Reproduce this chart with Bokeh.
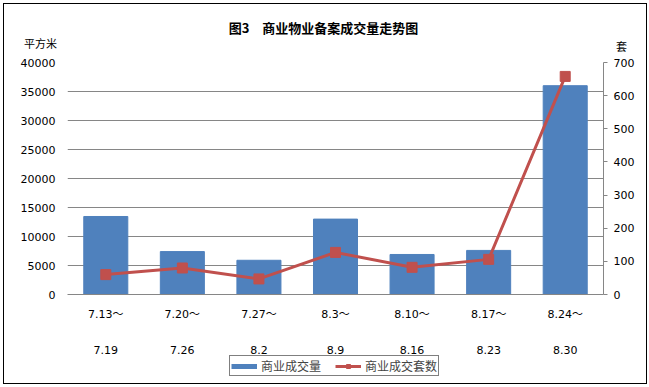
from bokeh.plotting import figure
from bokeh.layouts import column
from bokeh.models import Range1d, LinearAxis, FixedTicker, Legend, LegendItem, ColumnDataSource
from bokeh.core.properties import value
from bokeh.embed import file_html
from bokeh.resources import INLINE

title_text = "图3\u3000商业物业备案成交量走势图"
left_unit = "平方米"
right_unit = "套"
week_start = ["7.13～", "7.20～", "7.27～", "8.3～", "8.10～", "8.17～", "8.24～"]
week_end = ["7.19", "7.26", "8.2", "8.9", "8.16", "8.23", "8.30"]
area = [13450, 7400, 5900, 13000, 6900, 7600, 36000]
units = [60, 80, 47, 127, 82, 106, 658]
left_ticks = [0, 5000, 10000, 15000, 20000, 25000, 30000, 35000, 40000]
right_ticks = [0, 100, 200, 300, 400, 500, 600, 700]
series_names = ["商业成交量", "商业成交套数"]

BLUE = "#4F81BD"
RED = "#C0504D"
FONT = "DejaVu Sans, Noto Sans CJK SC"
CJK = "Noto Sans CJK SC"
GRID = "#868686"
W = 649
ML, MR = 67, 46  # frame margins shared by main chart and bottom strip

xs = [i + 0.5 for i in range(len(area))]
src = ColumnDataSource(dict(x=xs, area=area, units=units, start=week_start, end=week_end))

# ---- header: title and unit labels ----
top = figure(width=W, height=54, output_backend="svg", toolbar_location=None,
             x_range=Range1d(0, W), y_range=Range1d(54, 0),
             x_axis_type=None, y_axis_type=None, min_border=0, frame_align=False,
             background_fill_alpha=0, border_fill_alpha=0)
top.outline_line_color = None
top.grid.visible = False
top.text(x=[323], y=[27], text=[title_text], text_align="center", text_baseline="middle",
         text_font=value(CJK), text_font_size="13px", text_font_style="bold", text_color="black")
top.text(x=[40, 621], y=[42, 45], text=[left_unit, right_unit], text_align="center",
         text_baseline="middle", text_font=value(CJK), text_font_size="11px", text_color="black")

# ---- main chart ----
p = figure(width=W, height=276, output_backend="svg", toolbar_location=None,
           x_range=Range1d(0, 7), y_range=Range1d(0, 40000), frame_align=False,
           min_border_left=ML, min_border_right=MR, min_border_top=8, min_border_bottom=36,
           background_fill_color="white", border_fill_alpha=0)
p.outline_line_color = None
p.xgrid.grid_line_color = None
p.ygrid.grid_line_color = GRID
p.ygrid.ticker = FixedTicker(ticks=left_ticks)
p.extra_y_ranges = {"right": Range1d(0, 700)}

p.vbar(x="x", top="area", width=0.575, color=BLUE, source=src)
p.line(x="x", y="units", y_range_name="right", line_color=RED, line_width=3, source=src)
p.scatter(x="x", y="units", y_range_name="right", marker="square", size=10,
          fill_color=RED, line_color=RED, source=src)

ya = p.yaxis[0]
ya.ticker = FixedTicker(ticks=left_ticks)
ya.axis_line_color = None
ya.major_tick_line_color = None
ya.major_tick_out = 0
ya.major_tick_in = 0
ya.minor_tick_line_color = None
ya.major_label_standoff = 12
ya.major_label_text_font = FONT
ya.major_label_text_font_size = "11px"
ya.major_label_text_color = "black"

ra = LinearAxis(y_range_name="right", ticker=FixedTicker(ticks=right_ticks))
ra.axis_line_color = GRID
ra.major_tick_line_color = GRID
ra.major_tick_out = 4
ra.major_tick_in = 0
ra.minor_tick_line_color = None
ra.major_label_standoff = 6
ra.major_label_text_font = FONT
ra.major_label_text_font_size = "11px"
ra.major_label_text_color = "black"
p.add_layout(ra, "right")

xa = p.xaxis[0]
xa.ticker = FixedTicker(ticks=xs)
xa.major_label_overrides = {x: a for x, a in zip(xs, week_start)}
xa.axis_line_color = GRID
xa.major_tick_line_color = None
xa.major_tick_out = 0
xa.minor_tick_line_color = None
xa.major_label_standoff = 13
xa.major_label_text_font = FONT
xa.major_label_text_font_size = "11px"
xa.major_label_text_color = "black"

# ---- bottom strip: second line of the week labels + legend ----
BH = 57
bot = figure(width=W, height=BH, output_backend="svg", toolbar_location=None,
             x_range=Range1d(0, 7), y_range=Range1d(BH, 0),
             x_axis_type=None, y_axis_type=None, frame_align=False,
             min_border_left=ML, min_border_right=MR, min_border_top=0, min_border_bottom=0,
             background_fill_alpha=0, border_fill_alpha=0)
bot.outline_line_color = None
bot.grid.visible = False
bot.text(x="x", y=19, text="end", source=src, text_align="center", text_baseline="middle",
         text_font=value(FONT), text_font_size="11px", text_color="black")

offscreen = ColumnDataSource(dict(x=[-1000], y=[-1000]))
r_bar = bot.line(x="x", y="y", line_color=BLUE, line_width=5, source=offscreen)
r_line = bot.line(x="x", y="y", line_color=RED, line_width=3, source=offscreen)
r_mark = bot.scatter(x="x", y="y", marker="square", size=9, fill_color=RED, line_color=RED, source=offscreen)
legend = Legend(items=[LegendItem(label=series_names[0], renderers=[r_bar]),
                       LegendItem(label=series_names[1], renderers=[r_line, r_mark])],
                orientation="horizontal", location=(162, 11),
                border_line_color="black", border_line_width=1,
                label_text_font=CJK, label_text_font_size="12px", label_height=12,
                label_text_line_height=1.0,
                glyph_width=26, glyph_height=10, padding=1, spacing=14, margin=0,
                label_standoff=4, background_fill_color="white", background_fill_alpha=1)
bot.add_layout(legend, "center")

bg = ("linear-gradient(#000,#000) 3px 3px/644px 1px no-repeat, "
      "linear-gradient(#000,#000) 3px 383px/644px 1px no-repeat, "
      "linear-gradient(#000,#000) 3px 3px/1px 381px no-repeat, "
      "linear-gradient(#000,#000) 646px 3px/1px 381px no-repeat, #fff")
page = column(top, p, bot, spacing=0, styles={"background": bg})

open("out.html", "w").write(file_html(page, INLINE))
